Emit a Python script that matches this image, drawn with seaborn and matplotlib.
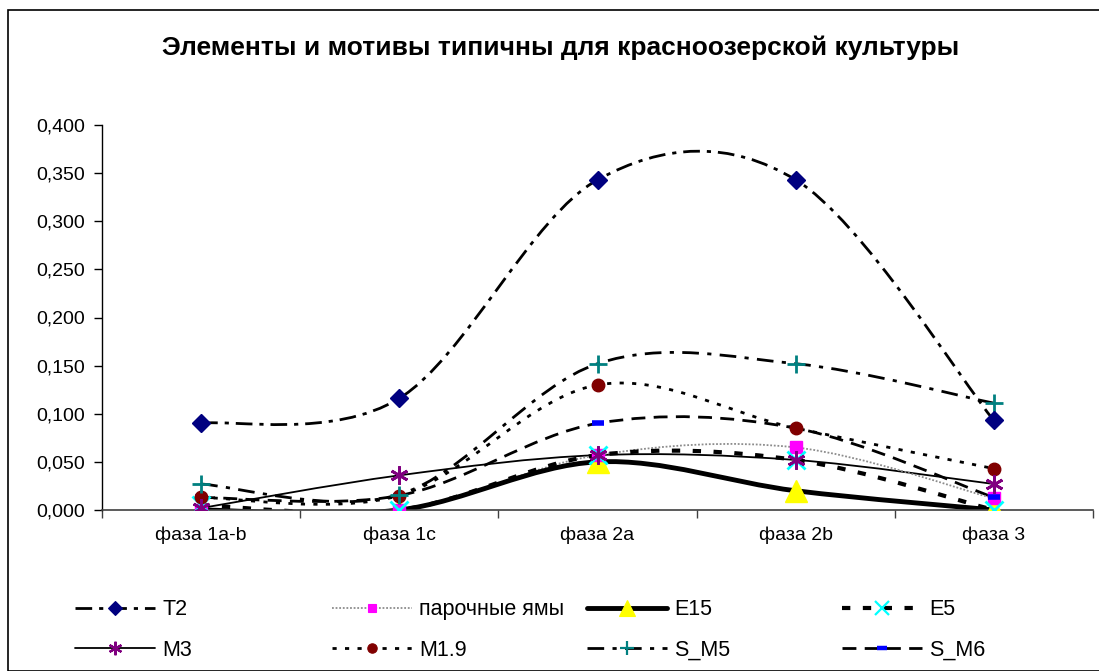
import numpy as np
import matplotlib
matplotlib.use("Agg")
import matplotlib.pyplot as plt
from matplotlib.path import Path
from matplotlib.patches import PathPatch, Rectangle
from matplotlib.lines import Line2D
from matplotlib.ticker import FuncFormatter, FixedLocator
import seaborn as sns
import pandas as pd

categories = ["фаза 1a-b", "фаза 1c", "фаза 2a", "фаза 2b", "фаза 3"]
title = "Элементы и мотивы типичны для красноозерской культуры"

T2 = [0.090, 0.116, 0.343, 0.343, 0.093]
parochnye = [0.000, 0.000, 0.057, 0.065, 0.012]
E15 = [0.000, 0.000, 0.050, 0.020, 0.000]
E5 = [0.005, 0.000, 0.057, 0.052, 0.000]
M3 = [0.002, 0.036, 0.057, 0.052, 0.027]
M1_9 = [0.013, 0.015, 0.130, 0.085, 0.043]
S_M5 = [0.027, 0.016, 0.152, 0.152, 0.111]
S_M6 = [0.013, 0.015, 0.090, 0.085, 0.013]

series_names = ["T2", "парочные ямы", "E15", "E5", "M3", "M1.9", "S_M5", "S_M6"]
series_vals = [T2, parochnye, E15, E5, M3, M1_9, S_M5, S_M6]

styles = {
    "T2": dict(color="black", lw=2.0, ls=(0, (6, 2.5, 1.5, 2.5)), marker="D", ms=9, mfc="#000080", mec="#000080", mew=1),
    "парочные ямы": dict(color="#8c8c8c", lw=1.3, ls=(0, (1, 1)), marker="s", ms=8, mfc="#ff00ff", mec="#ff00ff", mew=1),
    "E15": dict(color="black", lw=3.5, ls="-", marker="^", ms=16, mfc="#ffff00", mec="#ffff00", mew=1),
    "E5": dict(color="black", lw=3.0, ls=(0, (2, 3)), marker="x", ms=13, mfc="#00ffff", mec="#00ffff", mew=2),
    "M3": dict(color="black", lw=1.3, ls="-", marker=(6, 2, 0), ms=13, mfc="#800080", mec="#800080", mew=2),
    "M1.9": dict(color="black", lw=2.0, ls=(0, (1.5, 3)), marker="o", ms=9, mfc="#800000", mec="#800000", mew=1),
    "S_M5": dict(color="black", lw=2.0, ls=(0, (6, 3, 1.5, 3)), marker="+", ms=13, mfc="#008080", mec="#008080", mew=2),
    "S_M6": dict(color="black", lw=2.0, ls=(0, (5, 3)), marker="_", ms=9, mfc="#0000ff", mec="#0000ff", mew=4),
}

sns.set_theme(style="white")
plt.rcParams["font.family"] = ["Liberation Sans", "DejaVu Sans"]
plt.rcParams["text.color"] = "black"
plt.rcParams["xtick.color"] = "black"
plt.rcParams["ytick.color"] = "black"

fig = plt.figure(figsize=(10.99, 6.71), dpi=100)
ax = fig.add_axes([102 / 1099, 1 - 510 / 671, (1093 - 102) / 1099, (510 - 125) / 671])

xpos = np.arange(len(categories), dtype=float)


def smooth_path(xs, ys):
    # Excel-style smoothed line: Catmull-Rom converted to cubic Bezier
    pts = np.column_stack([xs, ys])
    n = len(pts)
    verts = [tuple(pts[0])]
    codes = [Path.MOVETO]
    for i in range(n - 1):
        p0 = pts[i - 1] if i > 0 else pts[i]
        p1 = pts[i]
        p2 = pts[i + 1]
        p3 = pts[i + 2] if i + 2 < n else pts[i + 1]
        c1 = p1 + (p2 - p0) / 6.0
        c2 = p2 - (p3 - p1) / 6.0
        verts += [tuple(c1), tuple(c2), tuple(p2)]
        codes += [Path.CURVE4] * 3
    return Path(verts, codes)


order_draw = ["T2", "S_M5", "M1.9", "S_M6", "M3", "парочные ямы", "E5", "E15"]
for name in order_draw:
    vals = series_vals[series_names.index(name)]
    st = styles[name]
    patch = PathPatch(smooth_path(xpos, np.array(vals)), fill=False, edgecolor=st["color"],
                      lw=st["lw"], linestyle=st["ls"], zorder=2, capstyle="butt")
    ax.add_patch(patch)

marker_order = ["E15", "парочные ямы", "E5", "S_M6", "M1.9", "S_M5", "M3", "T2"]
for name in marker_order:
    vals = series_vals[series_names.index(name)]
    st = styles[name]
    df = pd.DataFrame({"x": xpos, "y": vals})
    sns.lineplot(data=df, x="x", y="y", ax=ax, linestyle="none", marker=st["marker"],
                 markersize=st["ms"], markerfacecolor=st["mfc"], markeredgecolor=st["mec"],
                 markeredgewidth=st["mew"], color=st["mec"], zorder=4, legend=False)

ax.set_xlim(-0.5, len(categories) - 0.5)
ax.set_ylim(0, 0.4)
ax.set_yticks(np.arange(0, 0.401, 0.05))
ax.yaxis.set_major_formatter(FuncFormatter(lambda v, p: f"{v:.3f}".replace(".", ",")))
ax.xaxis.set_major_locator(FixedLocator(np.arange(-0.5, len(categories), 1.0)))
ax.xaxis.set_major_formatter(FuncFormatter(lambda v, p: ""))
ax.xaxis.set_minor_locator(FixedLocator(xpos))
ax.set_xticklabels(categories, minor=True)
ax.tick_params(axis="x", which="minor", length=0, labelsize=14, pad=12, labelcolor="black")
ax.tick_params(axis="x", which="major", length=6, width=1, direction="out", color="#404040", bottom=True)
ax.tick_params(axis="y", which="major", length=6, width=1, direction="out", color="black", left=True,
               labelsize=14, pad=6, labelcolor="black")
ax.set_xlabel("")
ax.set_ylabel("")
for s in ["top", "right"]:
    ax.spines[s].set_visible(False)
ax.spines["left"].set_color("black")
ax.spines["left"].set_linewidth(1)
ax.spines["bottom"].set_color("#404040")
ax.spines["bottom"].set_linewidth(1.2)
ax.grid(False)
ax.set_facecolor("white")

fig.text(561 / 1099, 1 - 48 / 671, title, ha="center", va="center", fontsize=19, fontweight="bold",
         color="black")

# legend: four columns, each placed at its own position (row-major order as in the reference)
col_x = [75, 332, 587, 842]
columns = [["T2", "M3"], ["парочные ямы", "M1.9"], ["E15", "S_M5"], ["E5", "S_M6"]]
for cx, names in zip(col_x, columns):
    handles = []
    for name in names:
        st = styles[name]
        handles.append(Line2D([0], [0], color=st["color"], lw=st["lw"], linestyle=st["ls"], marker=st["marker"],
                              markersize=st["ms"] * 0.75, markerfacecolor=st["mfc"], markeredgecolor=st["mec"],
                              markeredgewidth=st["mew"] * 0.8))
    leg = fig.legend(handles, names, ncol=1, loc="center left", bbox_to_anchor=(cx / 1099, 1 - 630 / 671),
                     frameon=False, fontsize=15.5, handlelength=3.7, labelspacing=0.9,
                     handletextpad=0.35, borderpad=0, borderaxespad=0)
    for t in leg.get_texts():
        t.set_color("black")

fig.patches.append(Rectangle((8 / 1099, 0), 1.2, 1 - 10 / 671, transform=fig.transFigure,
                             fill=False, edgecolor="black", lw=1.2))

fig.savefig("out.png", dpi=100, facecolor="white")
